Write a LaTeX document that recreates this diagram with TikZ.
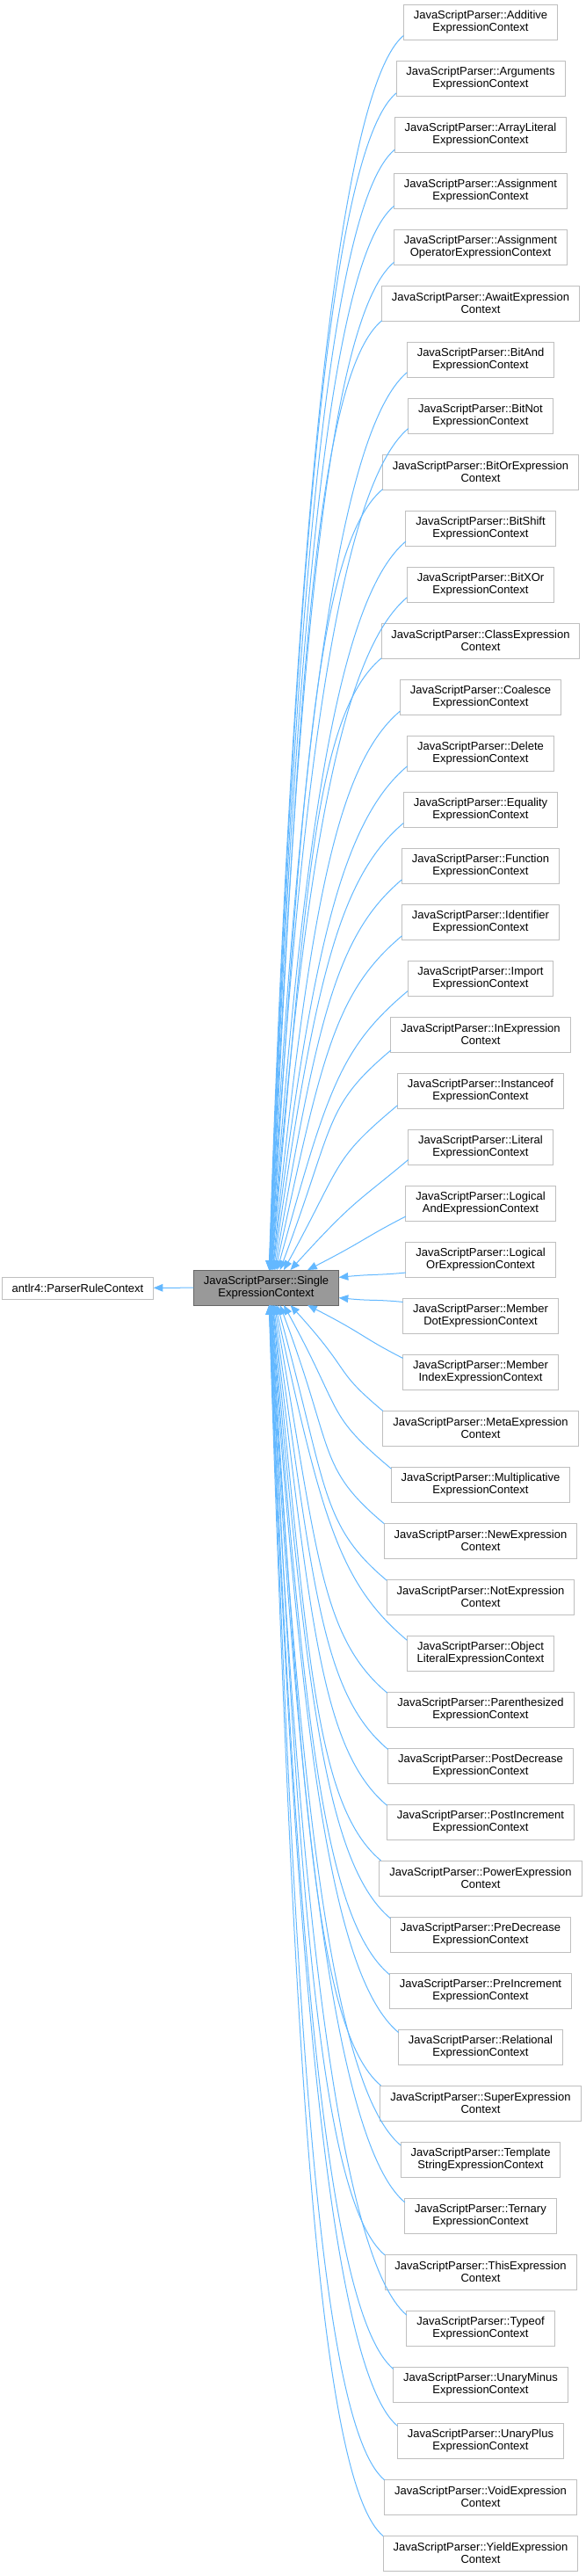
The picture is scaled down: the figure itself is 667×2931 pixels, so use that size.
\documentclass[tikz,border=0pt]{standalone}
\usepackage{fontspec}
\setmainfont{Liberation Sans}
\usepackage{xcolor}
\definecolor{EdgeBlue}{HTML}{63B8FF}
\definecolor{BoxGrey}{HTML}{BFBFBF}
\definecolor{CoreFill}{HTML}{999999}
\definecolor{CoreLine}{HTML}{666666}
\usetikzlibrary{arrows.meta, positioning}

\begin{document}
\begin{tikzpicture}[
    x=0.75pt, y=-0.75pt,
    font=\fontsize{9.75}{10.8}\selectfont,
    base_box/.style={draw=BoxGrey, fill=white, line width=0.75pt, align=center, inner xsep=8.6pt, inner ysep=0pt, minimum height=30pt, outer sep=0pt},
    core_box/.style={base_box, draw=CoreLine, fill=CoreFill},
    parent_box/.style={base_box, minimum height=18.75pt},
    inherit_edge/.style={draw=EdgeBlue, line width=0.75pt, -{Triangle[length=8pt, width=6.5pt]}}
]
    \useasboundingbox (0,0) rectangle (667,2931);

    % 1. THE CLASS ITSELF
    \node[core_box] (core) at (303,1465) {JavaScriptParser::Single\\ExpressionContext};

    % 2. BASE CLASS
    \node[parent_box] (prc) at (88.5,1465.5) {antlr4::ParserRuleContext};
    \draw[inherit_edge] (core) -- (prc);

    % 3. DERIVED CLASSES
    \foreach \i/\ta/\tb in {
        0/Additive/ExpressionContext, 1/Arguments/ExpressionContext,
        2/ArrayLiteral/ExpressionContext, 3/Assignment/ExpressionContext,
        4/Assignment/OperatorExpressionContext, 5/AwaitExpression/Context,
        6/BitAnd/ExpressionContext, 7/BitNot/ExpressionContext,
        8/BitOrExpression/Context, 9/BitShift/ExpressionContext,
        10/BitXOr/ExpressionContext, 11/ClassExpression/Context,
        12/Coalesce/ExpressionContext, 13/Delete/ExpressionContext,
        14/Equality/ExpressionContext, 15/Function/ExpressionContext,
        16/Identifier/ExpressionContext, 17/Import/ExpressionContext,
        18/InExpression/Context, 19/Instanceof/ExpressionContext,
        20/Literal/ExpressionContext, 21/Logical/AndExpressionContext,
        22/Logical/OrExpressionContext, 23/Member/DotExpressionContext,
        24/Member/IndexExpressionContext, 25/MetaExpression/Context,
        26/Multiplicative/ExpressionContext, 27/NewExpression/Context,
        28/NotExpression/Context, 29/Object/LiteralExpressionContext,
        30/Parenthesized/ExpressionContext, 31/PostDecrease/ExpressionContext,
        32/PostIncrement/ExpressionContext, 33/PowerExpression/Context,
        34/PreDecrease/ExpressionContext, 35/PreIncrement/ExpressionContext,
        36/Relational/ExpressionContext, 37/SuperExpression/Context,
        38/Template/StringExpressionContext, 39/Ternary/ExpressionContext,
        40/ThisExpression/Context, 41/Typeof/ExpressionContext,
        42/UnaryMinus/ExpressionContext, 43/UnaryPlus/ExpressionContext,
        44/VoidExpression/Context, 45/YieldExpression/Context} {
        \node[base_box] (c\i) at (547,{25+64*\i}) {JavaScriptParser::\ta\\\tb};
    }

    % 4. INHERITANCE EDGES (spline fan into the class)
    \foreach \i in {0,...,45} {
        \pgfmathsetmacro{\dy}{25+64*\i-1465}
        \pgfmathsetmacro{\d}{abs(\dy)}
        \pgfmathsetmacro{\t}{\d/150}
        \pgfmathtruncatemacro{\sgn}{\dy<0 ? 1 : -1}
        \pgfmathtruncatemacro{\a}{\sgn*atan(\d/219)}
        \pgfmathsetmacro{\b}{\sgn*atan(\t*sqrt(\t))}
        \pgfmathsetmacro{\c}{180+\sgn*min(40,abs(\b))}
        \pgfmathsetmacro{\od}{0.75*(0.55*\d+20)}
        \pgfmathsetmacro{\id}{0.75*min(100,0.35*\d+20)}
        \pgfmathtruncatemacro{\ea}{180+\sgn*10}
        \draw[inherit_edge] (c\i.\ea) .. controls +(\c:\id pt) and +(\b:\od pt) .. (core.\a);
    }

\end{tikzpicture}
\end{document}
